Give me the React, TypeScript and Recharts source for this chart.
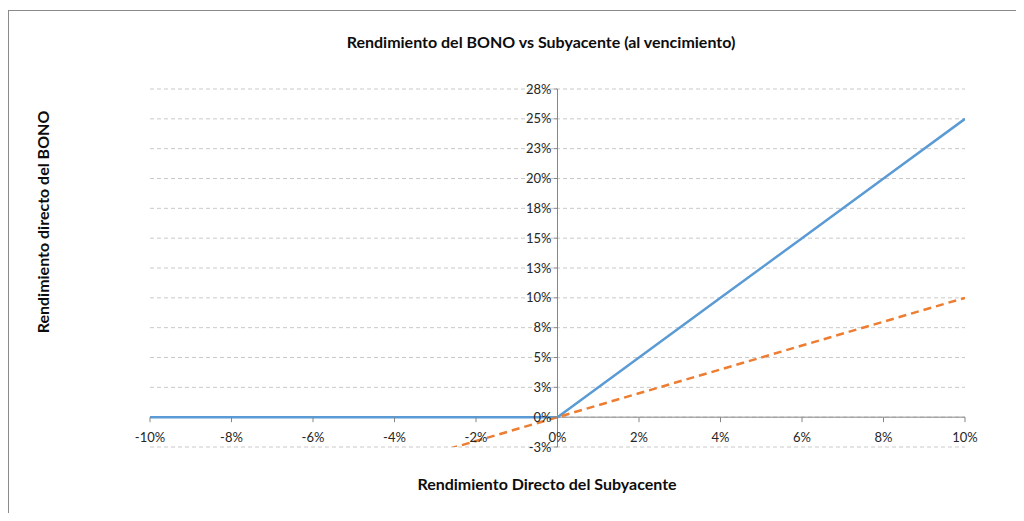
import { CartesianGrid, Line, LineChart, ReferenceLine, XAxis, YAxis } from 'recharts';

const subyacente = [-10, -8, -6, -4, -2, 0, 2, 4, 6, 8, 10];
const bono = [0, 0, 0, 0, 0, 0, 5, 10, 15, 20, 25];
const referencia = [-10, -8, -6, -4, -2, 0, 2, 4, 6, 8, 10];

const xTicks = [-10, -8, -6, -4, -2, 0, 2, 4, 6, 8, 10];
const yTicks = [-2.5, 0, 2.5, 5, 7.5, 10, 12.5, 15, 17.5, 20, 22.5, 25, 27.5];
const yTickLabels = ['-3%', '0%', '3%', '5%', '8%', '10%', '13%', '15%', '18%', '20%', '23%', '25%', '28%'];

const X_DOMAIN: [number, number] = [-10, 10];
const Y_DOMAIN: [number, number] = [-2.5, 27.5];

const W = 1016;
const H = 505;
const MARGIN = { top: 81, right: 59, bottom: 65, left: 141 };
const PLOT_W = W - MARGIN.left - 1 - MARGIN.right;
const PLOT_H = H - MARGIN.top - 1 - MARGIN.bottom;
// where the axes cross (x = 0, y = 0)
const AXIS_X = MARGIN.left + 1 + ((0 - X_DOMAIN[0]) / (X_DOMAIN[1] - X_DOMAIN[0])) * PLOT_W;
const AXIS_Y = MARGIN.top + ((Y_DOMAIN[1] - 0) / (Y_DOMAIN[1] - Y_DOMAIN[0])) * PLOT_H;

const FONT = 'Lato, "Open Sans", sans-serif';
const AXIS_COLOR = '#868686';

const data = subyacente.map((x, i) => ({ x, bono: bono[i], sub: referencia[i] }));

const renderYTick = (props: any) => {
  const { y, payload } = props;
  const idx = yTicks.indexOf(payload.value);
  return (
    <g key={`y-${payload.value}`}>
      <line x1={AXIS_X - 4} x2={AXIS_X} y1={y} y2={y} stroke={AXIS_COLOR} />
      <text x={AXIS_X - 6} y={y} dy={4.5} textAnchor="end" fontSize={13} fill="#262626" fontFamily={FONT}>
        {yTickLabels[idx]}
      </text>
    </g>
  );
};

const renderXTick = (props: any) => {
  const { x, payload } = props;
  return (
    <g key={`x-${payload.value}`}>
      <line x1={x} x2={x} y1={AXIS_Y} y2={AXIS_Y + 5} stroke={AXIS_COLOR} />
      <text x={x} y={AXIS_Y + 25} textAnchor="middle" fontSize={13} fill="#262626" fontFamily={FONT}>
        {`${payload.value}%`}
      </text>
    </g>
  );
};

const titleStyle = { fontSize: 16, fontWeight: 700, color: '#0d0d0d' } as const;

export default function App() {
  return (
    <div style={{ position: 'relative', width: W, height: H, fontFamily: FONT }}>
      <div
        style={{
          position: 'absolute',
          left: 0,
          top: 2,
          width: W,
          height: H - 2,
          boxSizing: 'border-box',
          borderTop: '1px solid #8a8a8a',
          borderLeft: '1px solid #8a8a8a',
        }}
      />
      <div style={{ position: 'absolute', left: 0, width: 1066, top: 24, textAlign: 'center', ...titleStyle }}>
        Rendimiento del BONO vs Subyacente (al vencimiento)
      </div>
      <div style={{ position: 'absolute', left: 34, top: 214, width: 0, height: 0 }}>
        <div
          style={{
            position: 'absolute',
            transform: 'translate(-50%, -50%) rotate(-90deg)',
            whiteSpace: 'nowrap',
            ...titleStyle,
          }}
        >
          Rendimiento directo del BONO
        </div>
      </div>
      <div style={{ position: 'absolute', left: 0, width: 1078, top: 466, textAlign: 'center', ...titleStyle }}>
        Rendimiento Directo del Subyacente
      </div>
      <div style={{ position: 'absolute', left: 0, top: 0 }}>
        <LineChart width={W} height={H} data={data} margin={MARGIN}>
          <CartesianGrid vertical={false} stroke="#c9c9c9" strokeDasharray="4 3" />
          <XAxis
            dataKey="x"
            type="number"
            domain={X_DOMAIN}
            ticks={xTicks}
            height={1}
            axisLine={false}
            tickLine={false}
            tick={renderXTick}
            interval={0}
            allowDataOverflow
          />
          <YAxis
            type="number"
            domain={Y_DOMAIN}
            ticks={yTicks}
            width={1}
            axisLine={false}
            tickLine={false}
            tick={renderYTick}
            interval={0}
            allowDataOverflow
          />
          <ReferenceLine y={0} stroke={AXIS_COLOR} strokeWidth={1} />
          <ReferenceLine x={0} stroke={AXIS_COLOR} strokeWidth={1} />
          <Line
            type="linear"
            dataKey="bono"
            stroke="#5B9BD5"
            strokeWidth={2.5}
            dot={false}
            isAnimationActive={false}
          />
          <Line
            type="linear"
            dataKey="sub"
            stroke="#ED7D31"
            strokeWidth={2.5}
            strokeDasharray="8 5"
            dot={false}
            isAnimationActive={false}
          />
        </LineChart>
      </div>
    </div>
  );
}
